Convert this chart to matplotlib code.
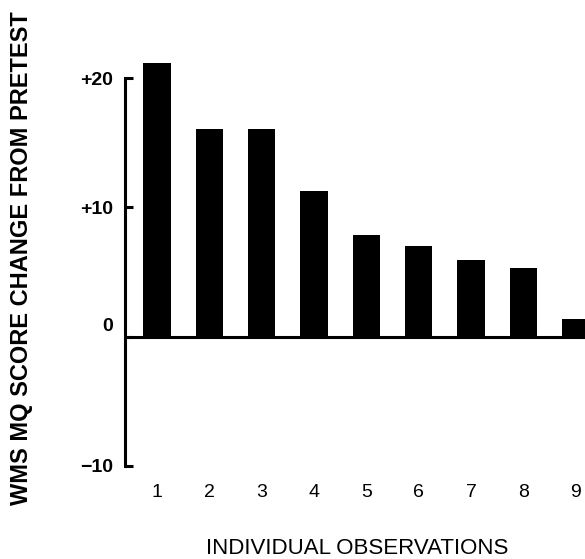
import numpy as np
import matplotlib
matplotlib.use('Agg')
import matplotlib.pyplot as plt
from matplotlib.transforms import ScaledTranslation

plt.rcParams['font.family'] = ['Liberation Sans', 'DejaVu Sans']

observations = [1, 2, 3, 4, 5, 6, 7, 8, 9]
score_change = [21.2, 16.1, 16.1, 11.3, 7.9, 7.0, 5.9, 5.3, 1.4]
y_ticks = [-10, 0, 10, 20]
y_tick_labels = ['\u221210', '0', '+10', '+20']

fig = plt.figure(figsize=(5.85, 5.59), dpi=100)
ax = fig.add_axes([0.2137, 0.1664, 0.7863, 0.7633])

ax.bar(observations, score_change, width=0.52, color='black')
ax.axhline(0, color='black', linewidth=2.2)

ax.set_xlim(0.388, 9.18)
ax.set_ylim(-10, 23)

for s in ['top', 'right', 'bottom']:
    ax.spines[s].set_visible(False)
ax.spines['left'].set_bounds(-10, 20)
ax.spines['left'].set_linewidth(2.2)

ax.set_yticks(y_ticks)
ax.set_yticklabels(y_tick_labels, fontsize=14, fontweight='bold')
ax.tick_params(axis='y', direction='in', length=6, width=2.2, pad=8.5)

ax.set_xticks(observations)
ax.set_xticklabels([str(o) for o in observations], fontsize=14)
ax.tick_params(axis='x', length=0, pad=13)

# the "0" label sits a bit above the zero line in the original
for lab in ax.get_yticklabels():
    if lab.get_text() == '0':
        lab.set_transform(lab.get_transform() + ScaledTranslation(0, 12/100, fig.dpi_scale_trans))

fig.text(22/585, 1-258/559, 'WMS MQ SCORE CHANGE FROM PRETEST', rotation=90,
         ha='center', va='center', fontsize=17, fontweight='bold')
fig.text(357/585, 1-549/559, 'INDIVIDUAL OBSERVATIONS', ha='center', va='center', fontsize=16)

fig.savefig('out.png', dpi=100)
